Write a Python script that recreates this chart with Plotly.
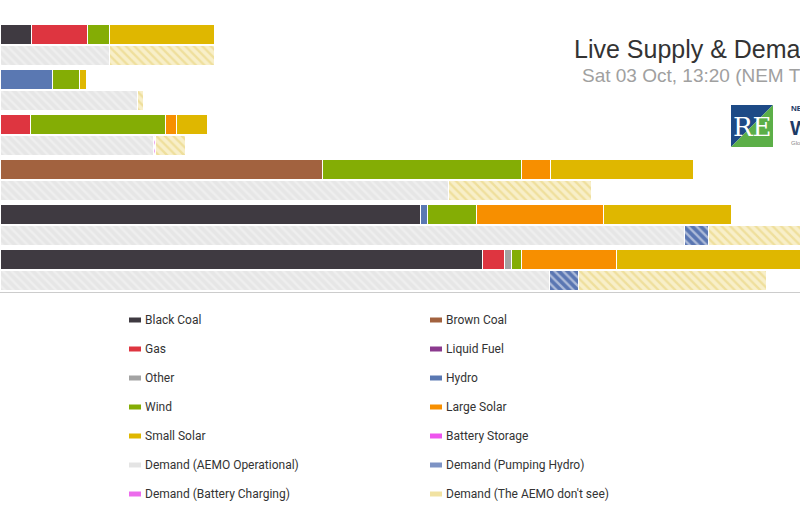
"""
Live supply & demand by region - stacked horizontal bars.
"""

import plotly.graph_objects as go

# Regions, top to bottom
REGIONS = ["WA", "TAS", "SA", "VIC", "NSW", "QLD"]

# Supply by fuel type (MW)
black_coal = [310, 0, 0, 0, 4200, 4820]
brown_coal = [0, 0, 0, 3220, 0, 0]
gas = [560, 0, 300, 0, 0, 220]
liquid_fuel = [0, 0, 0, 0, 0, 0]
other = [0, 0, 0, 0, 0, 70]
hydro = [0, 520, 0, 0, 70, 0]
wind = [220, 270, 1350, 1990, 490, 100]
large_solar = [0, 0, 110, 290, 1270, 950]
small_solar = [1050, 70, 310, 1430, 1280, 1880]
battery_storage = [0, 0, 0, 0, 0, 0]

# Demand components (MW)
demand_operational = [1090, 1370, 1530, 4480, 6840, 5490]
demand_pumping = [0, 0, 0, 0, 240, 290]
demand_battery = [0, 0, 20, 0, 0, 0]
demand_unseen = [1050, 60, 300, 1430, 1280, 1880]

TITLE = "Live Supply & Demand"
SUBTITLE = "Sat 03 Oct, 13:20 (NEM Time)"

SUPPLY = [
    ("Black Coal", black_coal, "#3f3a41"),
    ("Brown Coal", brown_coal, "#a2623f"),
    ("Gas", gas, "#de3540"),
    ("Liquid Fuel", liquid_fuel, "#8b3a8e"),
    ("Other", other, "#a3a3a3"),
    ("Hydro", hydro, "#5a78b2"),
    ("Wind", wind, "#84ad05"),
    ("Large Solar", large_solar, "#f78f00"),
    ("Small Solar", small_solar, "#dfb700"),
    ("Battery Storage", battery_storage, "#ee55ee"),
]

# name, values, background, stripe colour, legend swatch
DEMAND = [
    ("Demand (AEMO Operational)", demand_operational, "#e6e6e6", "#f7f7f7", "#e4e4e4"),
    ("Demand (Pumping Hydro)", demand_pumping, "#5a76b2", "#ffffff", "#7d93c4"),
    ("Demand (Battery Charging)", demand_battery, "#ffffff", "#e04ee0", "#ec6cec"),
    ("Demand (The AEMO don't see)", demand_unseen, "#f8efc9", "#e6cf70", "#f1e2a2"),
]

# pixel geometry of the page
W, H = 800, 524
PLOT_TOP, PLOT_BOTTOM = 22, 292
PITCH = 2.25
y_supply = [PITCH * i for i in range(len(REGIONS))]
y_demand = [PITCH * i + 1.05 for i in range(len(REGIONS))]


def px_x(p):
    return p / W


def px_y(p):
    return (PLOT_BOTTOM - p) / (PLOT_BOTTOM - PLOT_TOP)


def nz(vals):
    return [v if v else None for v in vals]


fig = go.Figure()

for name, vals, color in SUPPLY:
    fig.add_trace(go.Bar(
        x=nz(vals), y=y_supply, orientation='h', width=1.0, name=name,
        marker=dict(color=color, line=dict(color='white', width=1)),
        showlegend=False,
    ))

for name, vals, bg, fg, _ in DEMAND:
    fig.add_trace(go.Bar(
        x=nz(vals), y=y_demand, orientation='h', width=1.0, name=name,
        marker=dict(
            color=bg, line=dict(color='white', width=1),
            pattern=dict(shape='\\', fillmode='overlay', fgcolor=fg,
                         size=6, solidity=0.4),
        ),
        showlegend=False,
    ))

# Legend drawn as two columns of swatches + labels
legend_items = [(n, c) for n, _, c in SUPPLY] + [(n, s) for n, _, _, _, s in DEMAND]
for i, (name, swatch) in enumerate(legend_items):
    row, col = divmod(i, 2)
    cy = 320 + 29 * row
    sx = 129 if col == 0 else 430
    fig.add_shape(
        type='rect', xref='paper', yref='paper',
        x0=px_x(sx), x1=px_x(sx + 12), y0=px_y(cy + 2.5), y1=px_y(cy - 2.5),
        fillcolor=swatch, line=dict(width=0),
    )
    fig.add_annotation(
        x=px_x(sx + 14), y=px_y(cy), xref='paper', yref='paper',
        text=name, showarrow=False, xanchor='left', yanchor='middle',
        font=dict(family='Roboto', size=12, color='#333333'),
    )

# Title and subtitle (the page cuts them at the right edge, as in the original)
fig.add_annotation(
    x=px_x(572), y=px_y(49), xref='paper', yref='paper', text=TITLE,
    showarrow=False, xanchor='left', yanchor='middle',
    font=dict(family='Liberation Sans', size=25, color='#333333'),
)
fig.add_annotation(
    x=px_x(580), y=px_y(76), xref='paper', yref='paper', text=SUBTITLE,
    showarrow=False, xanchor='left', yanchor='middle',
    font=dict(family='Liberation Sans', size=19, color='#a0a0a0'),
)

# Logo
lx0, lx1, ly0, ly1 = 731, 773, 105, 147
fig.add_shape(
    type='path', xref='paper', yref='paper',
    path=f"M{px_x(lx0)},{px_y(ly0)} L{px_x(lx1)},{px_y(ly0)} L{px_x(lx0)},{px_y(ly1)} Z",
    fillcolor='#1d4a86', line=dict(width=0),
)
fig.add_shape(
    type='path', xref='paper', yref='paper',
    path=f"M{px_x(lx1)},{px_y(ly0)} L{px_x(lx1)},{px_y(ly1)} L{px_x(lx0)},{px_y(ly1)} Z",
    fillcolor='#5caf48', line=dict(width=0),
)
fig.add_annotation(
    x=px_x(752), y=px_y(127), xref='paper', yref='paper', text="RE",
    showarrow=False, xanchor='center', yanchor='middle',
    font=dict(family='DejaVu Serif', size=26, color='white'),
)
fig.add_annotation(
    x=px_x(789), y=px_y(109), xref='paper', yref='paper', text="<b>NEM</b>",
    showarrow=False, xanchor='left', yanchor='middle',
    font=dict(family='Liberation Sans', size=8, color='#1d3a66'),
)
fig.add_annotation(
    x=px_x(788), y=px_y(128), xref='paper', yref='paper', text="<b>Watch</b>",
    showarrow=False, xanchor='left', yanchor='middle',
    font=dict(family='Liberation Sans', size=20, color='#1d3a66'),
)
fig.add_annotation(
    x=px_x(789), y=px_y(143), xref='paper', yref='paper', text="Global-Roam",
    showarrow=False, xanchor='left', yanchor='middle',
    font=dict(family='Liberation Sans', size=6, color='#888888'),
)

fig.update_layout(
    width=W, height=H,
    margin=dict(l=0, r=0, t=PLOT_TOP, b=H - PLOT_BOTTOM),
    barmode='stack',
    plot_bgcolor='white', paper_bgcolor='white',
    showlegend=False,
)
fig.update_xaxes(range=[0, 8000], showticklabels=False, showgrid=False,
                 zeroline=False, showline=True, linecolor='#cccccc',
                 linewidth=1, ticks='')
fig.update_yaxes(range=[12.9, -0.6], visible=False)

# page margin off so the chart sits flush with the window corner
fig.write_html("out.html", config={'displayModeBar': False},
               post_script="document.body.style.margin='0';")
